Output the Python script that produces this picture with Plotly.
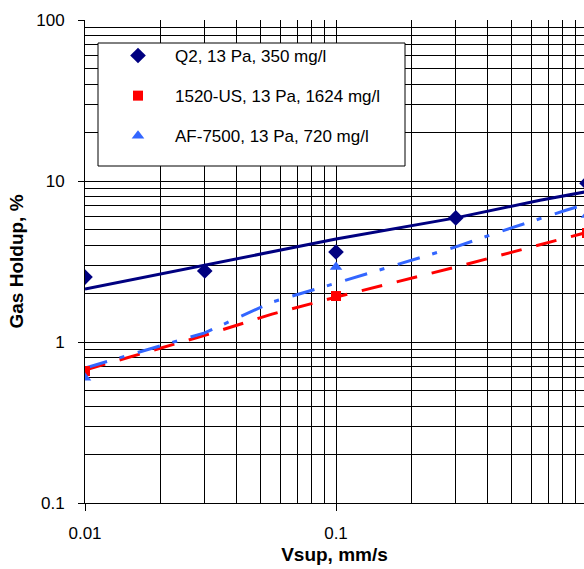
import math
import plotly.graph_objects as go

# ---- data ----
names = ["Q2, 13 Pa, 350 mg/l", "1520-US, 13 Pa, 1624 mg/l", "AF-7500, 13 Pa, 720 mg/l"]

q2_x = [0.01, 0.03, 0.1, 0.3, 1.0]
q2_y = [2.53, 2.76, 3.62, 5.9, 9.7]
us_x = [0.01, 0.1, 1.0]
us_y = [0.66, 1.93, 4.75]
af_x = [0.01, 0.1, 1.0]
af_y = [0.60, 2.92, 6.15]

q2_line_x = [0.01, 0.03, 0.1, 0.3, 0.65, 1.0]
q2_line_y = [2.13, 3.0, 4.36, 5.9, 7.6, 8.6]
us_line_x = [0.01, 0.03, 0.0556, 0.1, 0.3, 0.65, 1.0]
us_line_y = [0.67, 1.1, 1.49, 1.9, 2.92, 4.0, 4.8]
af_line_x = [0.01, 0.03, 0.0556, 0.1, 0.3, 0.493, 0.83, 1.0]
af_line_y = [0.69, 1.14, 1.77, 2.32, 3.9, 5.08, 6.6, 7.2]

x_ticks = [0.01, 0.1, 1]
x_ticktext = ["0.01", "0.1", "1"]
y_ticks = [0.1, 1, 10, 100]
y_ticktext = ["0.1", "1", "10", "100"]

NAVY = "#000080"
RED = "#FF0000"
BLUE = "#3366FF"
FONT = "Arial, Liberation Sans, sans-serif"

x_minor = [m * 10 ** e for e in (-2, -1) for m in range(2, 10)]
y_minor = [m * 10 ** e for e in (-1, 0, 1) for m in range(2, 10)]

fig = go.Figure()

# trend lines
fig.add_trace(go.Scatter(x=q2_line_x, y=q2_line_y, mode="lines", showlegend=False,
                         line=dict(color=NAVY, width=3), hoverinfo="skip"))
fig.add_trace(go.Scatter(x=us_line_x, y=us_line_y, mode="lines", showlegend=False,
                         line=dict(color=RED, width=3, dash="21px,15px"), hoverinfo="skip"))
fig.add_trace(go.Scatter(x=af_line_x, y=af_line_y, mode="lines", showlegend=False,
                         line=dict(color=BLUE, width=3, dash="23px,13px,5px,14px"), hoverinfo="skip"))

# markers
fig.add_trace(go.Scatter(x=q2_x, y=q2_y, mode="markers", name=names[0], legendgroup="a",
                         marker=dict(symbol="diamond", size=12, color=NAVY)))
fig.add_trace(go.Scatter(x=us_x, y=us_y, mode="markers", name=names[1], legendgroup="b",
                         marker=dict(symbol="square", size=10, color=RED)))
fig.add_trace(go.Scatter(x=af_x, y=af_y, mode="markers", name=names[2], legendgroup="c",
                         marker=dict(symbol="triangle-up", size=11, color=BLUE)))

L, T, B = 85, 20, 66
W, H = 584, 569
pw, ph = W - L, H - T - B

def px_x(p):
    return (p - L) / pw

def px_y(p):
    return (H - B - p) / ph

fig.add_shape(type="rect", xref="paper", yref="paper",
              x0=px_x(98), x1=px_x(405), y0=px_y(166), y1=px_y(43),
              line=dict(color="black", width=1), fillcolor="white", layer="above")

fig.update_layout(
    width=W, height=H,
    margin=dict(l=L, r=0, t=T, b=B),
    paper_bgcolor="white", plot_bgcolor="white",
    font=dict(family=FONT, size=17, color="black"),
    legend=dict(x=px_x(101), y=px_y(38), xanchor="left", yanchor="top",
                bgcolor="rgba(0,0,0,0)", borderwidth=0,
                font=dict(family=FONT, size=17, color="black"),
                itemwidth=64, tracegroupgap=15),
    xaxis=dict(type="log", range=[-2, math.log10(10 ** (-2 + (W - L) / 251.0))],
               tickvals=x_ticks, ticktext=x_ticktext,
               ticks="outside", ticklen=7, tickcolor="black", tickwidth=1,
               showline=True, linecolor="black", linewidth=1,
               showgrid=True, gridcolor="black", gridwidth=1,
               minor=dict(tickvals=x_minor, showgrid=True, gridcolor="black", gridwidth=1, ticks=""),
               zeroline=False, ticklabelstandoff=8,
               title=dict(text="<b>Vsup, mm/s</b>", font=dict(family=FONT, size=19), standoff=5),
               automargin=False),
    yaxis=dict(type="log", range=[-1, 2],
               tickvals=y_ticks, ticktext=y_ticktext,
               ticks="outside", ticklen=6, tickcolor="black", tickwidth=1,
               showline=True, linecolor="black", linewidth=1,
               showgrid=True, gridcolor="black", gridwidth=1,
               minor=dict(tickvals=y_minor, showgrid=True, gridcolor="black", gridwidth=1, ticks=""),
               zeroline=False, ticklabelstandoff=10,
               title=dict(text="<b>Gas Holdup, %</b>", font=dict(family=FONT, size=19), standoff=7),
               automargin=False),
)

fig.write_html("out.html")
